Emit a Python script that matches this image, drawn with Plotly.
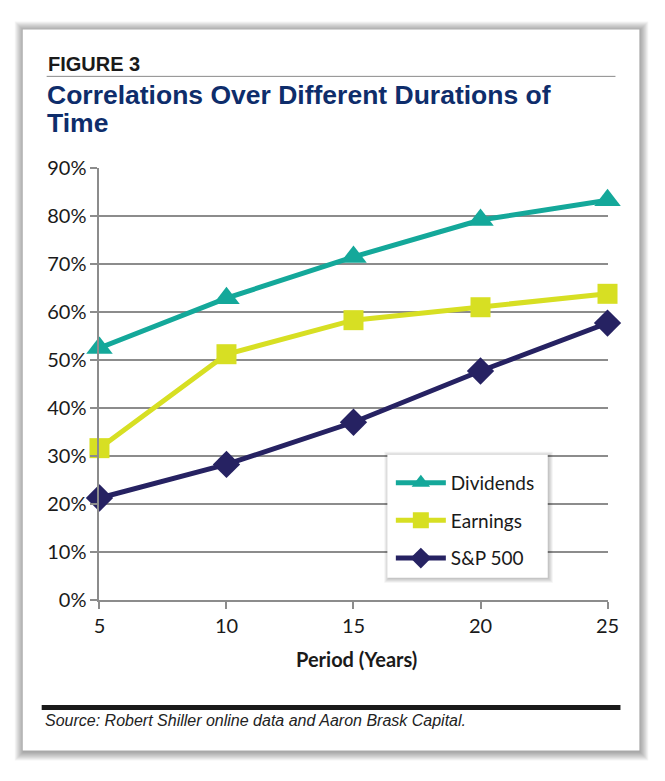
import plotly.graph_objects as go

# figure is 16px smaller than the window (8px body margin around it)
W, H = 649, 765
OFF = 8
# the photo of the page comes out slightly shrunk; these undo it so that
# positions below can be given in reference-picture pixels
SX, AX = 0.976, 4.4
SY, AY = 0.970, 12.8

# data
periods = [5, 10, 15, 20, 25]
dividends = [52.5, 62.9, 71.5, 79.2, 83.3]
earnings = [31.6, 51.2, 58.3, 61.0, 63.8]
sp500 = [21.2, 28.2, 37.0, 47.7, 57.7]
y_ticks = [0, 10, 20, 30, 40, 50, 60, 70, 80, 90]
y_labels = [f"{v}%" for v in y_ticks]

TEAL = "#14a89a"
LIME = "#d7df23"
NAVY = "#262262"
GRID = "#8c8c8c"
TITLE_BLUE = "#0e2d6b"
ARIAL = "Liberation Sans, Arial, sans-serif"
BODY = "Lato, Open Sans, sans-serif"


def rx(x):
    return ((x - AX) / SX - OFF) / W


def ry(y):
    return 1 - ((y - AY) / SY - OFF) / H


def rect(x0, y0, x1, y1, fill, layer="below"):
    return dict(type="rect", xref="paper", yref="paper",
                x0=rx(x0), x1=rx(x1), y0=ry(y1), y1=ry(y0),
                fillcolor=fill, line=dict(width=0), layer=layer)


fig = go.Figure()

series = [("Dividends", dividends, TEAL, "triangle-up", 23),
          ("Earnings", earnings, LIME, "square", 20),
          ("S&P 500", sp500, NAVY, "diamond", 21)]
for name, vals, col, sym, size in series:
    fig.add_trace(go.Scatter(
        x=periods, y=vals, name=name, mode="lines+markers",
        line=dict(color=col, width=5),
        marker=dict(symbol=sym, size=size, color=col),
        cliponaxis=False, legendgroup=name,
    ))

shapes = []
# card shadow + card
for i in range(9, 0, -1):
    shapes.append(rect(21 - i + 1, 29 - i + 1, 640 + i, 751 + i + 1,
                       "rgba(0,0,0,0.045)"))
shapes.append(rect(21, 29, 640, 751, "white"))
# rule under FIGURE 3
shapes.append(dict(type="line", xref="paper", yref="paper",
                   x0=rx(45), x1=rx(616), y0=ry(76), y1=ry(76),
                   line=dict(color="#8a8a8a", width=1), layer="below"))
# thick rule above source
shapes.append(dict(type="line", xref="paper", yref="paper",
                   x0=rx(40), x1=rx(621), y0=ry(708), y1=ry(708),
                   line=dict(color="#1a1a1a", width=5), layer="below"))
# legend box with shadow
for i in range(5, 0, -1):
    shapes.append(rect(387 - i + 2, 455 - i + 2, 548 + i, 578 + i,
                       "rgba(0,0,0,0.05)", layer="above"))
shapes.append(rect(387, 455, 548, 578, "white", layer="above"))

annotations = [
    dict(text="<b>FIGURE 3</b>", x=rx(44), y=ry(64), xanchor="left",
         yanchor="middle", font=dict(family=ARIAL, size=20, color="#1a1a1a")),
    dict(text="<b>Correlations Over Different Durations of</b>", x=rx(43),
         y=ry(95), xanchor="left", yanchor="middle",
         font=dict(family=ARIAL, size=26.5, color=TITLE_BLUE)),
    dict(text="<b>Time</b>", x=rx(43), y=ry(122.5), xanchor="left",
         yanchor="middle", font=dict(family=ARIAL, size=26.5, color=TITLE_BLUE)),
    dict(text="<b>Period (Years)</b>", x=rx(356), y=ry(659),
         xanchor="center", yanchor="middle",
         font=dict(family=BODY, size=20, color="#1a1a1a")),
    dict(text="<i>Source: Robert Shiller online data and Aaron Brask Capital.</i>",
         x=rx(41), y=ry(721), xanchor="left", yanchor="middle",
         font=dict(family=ARIAL, size=16, color="#222222")),
]
for a in annotations:
    a.update(xref="paper", yref="paper", showarrow=False)

fig.update_layout(
    width=W, height=H,
    margin=dict(l=0, r=0, t=0, b=0),
    paper_bgcolor="white",
    plot_bgcolor="rgba(0,0,0,0)",
    font=dict(family=BODY, color="#1a1a1a", size=19),
    shapes=shapes,
    annotations=annotations,
    showlegend=True,
    legend=dict(x=rx(390.5), y=ry(464), xanchor="left", yanchor="top",
                bgcolor="rgba(0,0,0,0)", font=dict(family=BODY, size=19),
                itemwidth=50, tracegroupgap=10, traceorder="grouped"),
)

fig.update_xaxes(
    domain=[rx(98), rx(608)], range=[5, 25],
    tickvals=periods, ticks="outside", ticklen=7, tickcolor=GRID,
    tickwidth=2, showgrid=False, showline=True, linecolor=GRID, linewidth=2,
    zeroline=False, tickfont=dict(size=20),
)
fig.update_yaxes(
    domain=[ry(600), ry(168)], range=[0, 90],
    tickvals=y_ticks, ticktext=y_labels, ticks="outside", ticklen=7,
    tickcolor=GRID, tickwidth=2, showgrid=True, gridcolor=GRID, gridwidth=2,
    showline=True, linecolor=GRID, linewidth=2, zeroline=False,
    tickfont=dict(size=20),
)

fig.write_html("out.html")
